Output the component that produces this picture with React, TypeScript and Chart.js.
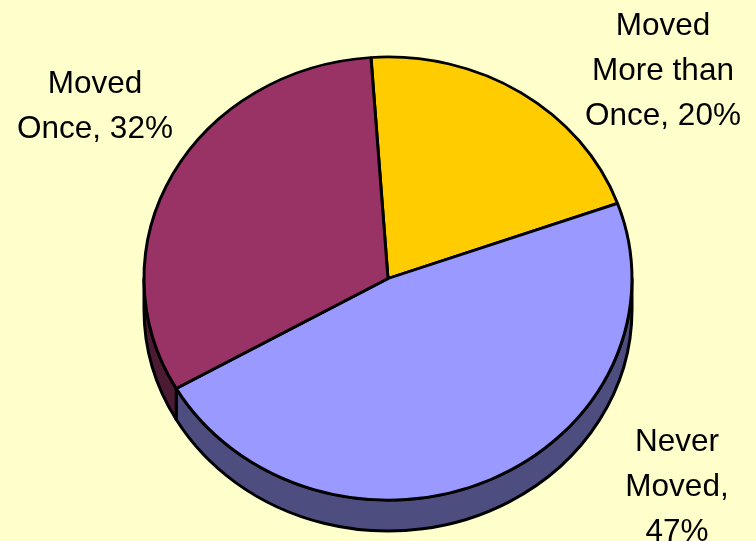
import React, { useEffect, useRef } from "react";
import { Chart, registerables } from "chart.js";

Chart.register(...registerables);

const categories = ["Moved More than Once", "Never Moved", "Moved Once"];
const values = [20.5, 47, 32];
const faceColors = ["#FFCC00", "#9999FF", "#993366"];
const sideColors = ["#806600", "#4D4D80", "#4D1A33"];
const labelLines = [
  ["Moved", "More than", "Once, 20%"],
  ["Never", "Moved,", "47%"],
  ["Moved", "Once, 32%"],
];
const labelAnchors = [
  { x: 663, y: 26 },
  { x: 677, y: 442 },
  { x: 95, y: 84 },
];

const SQUASH = 0.908;
const DEPTH = 31;
const LINE_HEIGHT = 45;

const tiltPlugin = {
  id: "tilt",
  beforeDatasetsDraw(chart: any) {
    const { ctx } = chart;
    const arcs = chart.getDatasetMeta(0).data;
    const cx = arcs[0].x;
    const cy = arcs[0].y;
    const r = arcs[0].outerRadius;
    const ry = r * SQUASH;
    ctx.save();
    ctx.lineWidth = 3;
    ctx.strokeStyle = "#000";
    ctx.lineJoin = "round";
    arcs.forEach((arc: any, i: number) => {
      // Visible part of the rim: the lower half of the ellipse
      const tau = Math.PI * 2;
      let a0 = arc.startAngle;
      let a1 = arc.endAngle;
      while (a0 < -Math.PI / 2) { a0 += tau; a1 += tau; }
      const start = Math.max(a0, 0);
      const end = Math.min(a1, Math.PI);
      if (end <= start) return;
      ctx.beginPath();
      ctx.ellipse(cx, cy, r, ry, 0, start, end);
      ctx.lineTo(cx + r * Math.cos(end), cy + ry * Math.sin(end) + DEPTH);
      ctx.ellipse(cx, cy + DEPTH, r, ry, 0, end, start, true);
      ctx.closePath();
      ctx.fillStyle = sideColors[i];
      ctx.fill();
      ctx.stroke();
    });
    ctx.restore();
    ctx.save();
    ctx.translate(cx, cy);
    ctx.scale(1, SQUASH);
    ctx.translate(-cx, -cy);
  },
  afterDatasetsDraw(chart: any) {
    chart.ctx.restore();
  },
  afterDraw(chart: any) {
    const { ctx } = chart;
    ctx.save();
    ctx.fillStyle = "#000";
    ctx.font = '31.5px "Liberation Sans", Arial, sans-serif';
    ctx.textAlign = "center";
    ctx.textBaseline = "middle";
    labelLines.forEach((lines, i) => {
      lines.forEach((line, j) => {
        ctx.fillText(line, labelAnchors[i].x, labelAnchors[i].y + j * LINE_HEIGHT);
      });
    });
    ctx.restore();
  },
};

export default function App() {
  const ref = useRef<HTMLCanvasElement | null>(null);
  useEffect(() => {
    document.body.style.margin = "0";
    document.body.style.background = "#FFFFCC";
    const chart = new Chart(ref.current as HTMLCanvasElement, {
      type: "pie",
      data: {
        labels: categories,
        datasets: [
          {
            data: values,
            backgroundColor: faceColors,
            borderColor: "#000",
            borderWidth: 3,
            borderAlign: "center",
            clip: false,
          } as any,
        ],
      },
      options: {
        responsive: false,
        animation: false,
        rotation: -4,
        layout: { padding: { left: 20, right: 0, top: 33, bottom: 17 } },
        plugins: { legend: { display: false }, tooltip: { enabled: false } },
      },
      plugins: [tiltPlugin],
    } as any);
    return () => chart.destroy();
  }, []);
  return (
    <canvas
      ref={ref}
      width={756}
      height={541}
      style={{ display: "block", width: 756, height: 541, background: "#FFFFCC" }}
    />
  );
}
